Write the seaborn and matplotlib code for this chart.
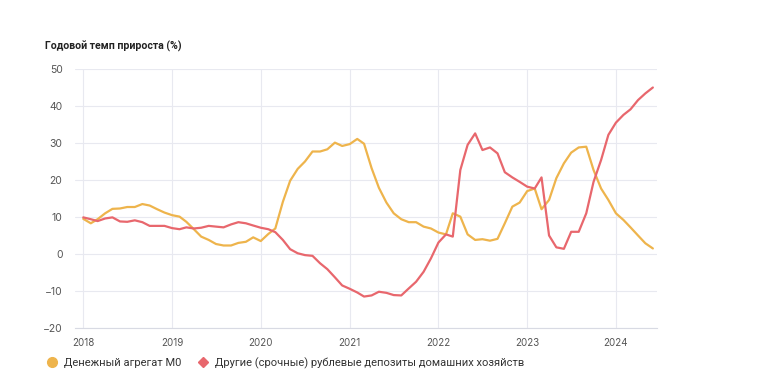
import matplotlib
matplotlib.use("Agg")
import matplotlib.pyplot as plt
import matplotlib.dates as mdates
from matplotlib.lines import Line2D
import seaborn as sns
import pandas as pd

# помесячные значения, янв 2018 - июн 2024
months = pd.date_range("2018-01-01", "2024-06-01", freq="MS")

m0 = [9.5, 8.3, 9.4, 11.0, 12.2, 12.3, 12.7, 12.7, 13.5, 13.1, 12.1, 11.2,
      10.5, 10.1, 8.7, 6.7, 4.7, 3.8, 2.7, 2.3, 2.3, 3.0, 3.3, 4.5,
      3.5, 5.4, 6.9, 14.1, 19.8, 23.0, 25.0, 27.7, 27.7, 28.3, 30.1, 29.2,
      29.7, 31.1, 29.8, 23.2, 17.9, 13.9, 11.0, 9.4, 8.6, 8.6, 7.4, 6.9,
      5.8, 5.3, 11.0, 10.1, 5.3, 3.8, 4.0, 3.6, 4.1, 8.3, 12.8, 13.9,
      17.0, 17.7, 12.1, 14.6, 20.5, 24.5, 27.4, 28.8, 29.0, 22.7, 17.7, 14.6,
      11.0, 9.2, 7.2, 5.0, 2.9, 1.5]

deposits = [9.9, 9.4, 8.9, 9.6, 9.9, 8.8, 8.7, 9.1, 8.6, 7.6, 7.6, 7.6,
            7.0, 6.7, 7.2, 6.9, 7.1, 7.6, 7.4, 7.2, 8.0, 8.6, 8.3, 7.7,
            7.1, 6.7, 5.9, 3.8, 1.3, 0.2, -0.3, -0.5, -2.5, -4.1, -6.3, -8.5,
            -9.4, -10.4, -11.5, -11.2, -10.2, -10.5, -11.1, -11.2, -9.3, -7.5, -4.8, -1.2,
            3.1, 5.3, 4.7, 22.7, 29.5, 32.6, 28.1, 28.8, 27.2, 22.1, 20.7, 19.5,
            18.2, 17.7, 20.7, 5.0, 1.8, 1.4, 6.0, 6.0, 11.0, 19.5, 25.4, 32.2,
            35.5, 37.6, 39.1, 41.6, 43.4, 45.0]

series_names = ["Денежный агрегат М0", "Другие (срочные) рублевые депозиты домашних хозяйств"]
colors = ["#eeb44c", "#e8676d"]

df = pd.DataFrame({"date": months, series_names[0]: m0, series_names[1]: deposits})
long = df.melt(id_vars="date", var_name="series", value_name="value")

sns.set_style("white")
plt.rcParams["font.family"] = ["Inter", "DejaVu Sans"]

fig = plt.figure(figsize=(7.58, 3.9), dpi=100)
ax = fig.add_axes([75 / 758, 1 - 328 / 390, (657 - 75) / 758, (328 - 69) / 390])

sns.lineplot(data=long, x="date", y="value", hue="series", palette=colors,
             linewidth=1.6, legend=False, ax=ax)

ax.set_ylim(-20, 50)
ax.set_yticks(range(-20, 51, 10))
ax.set_xlim(pd.Timestamp("2017-11-28"), pd.Timestamp("2024-06-18"))
ax.xaxis.set_major_locator(mdates.YearLocator())
ax.xaxis.set_major_formatter(mdates.DateFormatter("%Y"))

ax.grid(True, color="#e8e9f0", linewidth=0.8)
ax.set_axisbelow(True)
for s in ["top", "right", "left"]:
    ax.spines[s].set_visible(False)
ax.spines["bottom"].set_color("#d8dae3")
ax.tick_params(axis="x", length=5, color="#e8e9f0", labelsize=7, labelcolor="#555555", pad=2)
ax.tick_params(axis="y", length=0, labelsize=7.5, labelcolor="#555555", pad=9)
ax.set_xlabel("")
ax.set_ylabel("")

fig.text(45 / 758, 1 - 46 / 390, "Годовой темп прироста (%)", fontsize=7.6,
         fontweight="bold", color="#222222", va="center", family=["Roboto", "DejaVu Sans"])

handles = [
    Line2D([], [], marker="o", linestyle="", color=colors[0], markersize=7),
    Line2D([], [], marker="D", linestyle="", color=colors[1], markersize=5),
]
fig.legend(handles, series_names, loc="center left", bbox_to_anchor=(35 / 758, 1 - 363 / 390),
           ncol=2, frameon=False, prop={"family": ["Roboto", "DejaVu Sans"], "size": 8},
           handletextpad=0.5, columnspacing=1.33, handlelength=1.2, labelcolor="#333333")

fig.savefig("out.png", dpi=100)
